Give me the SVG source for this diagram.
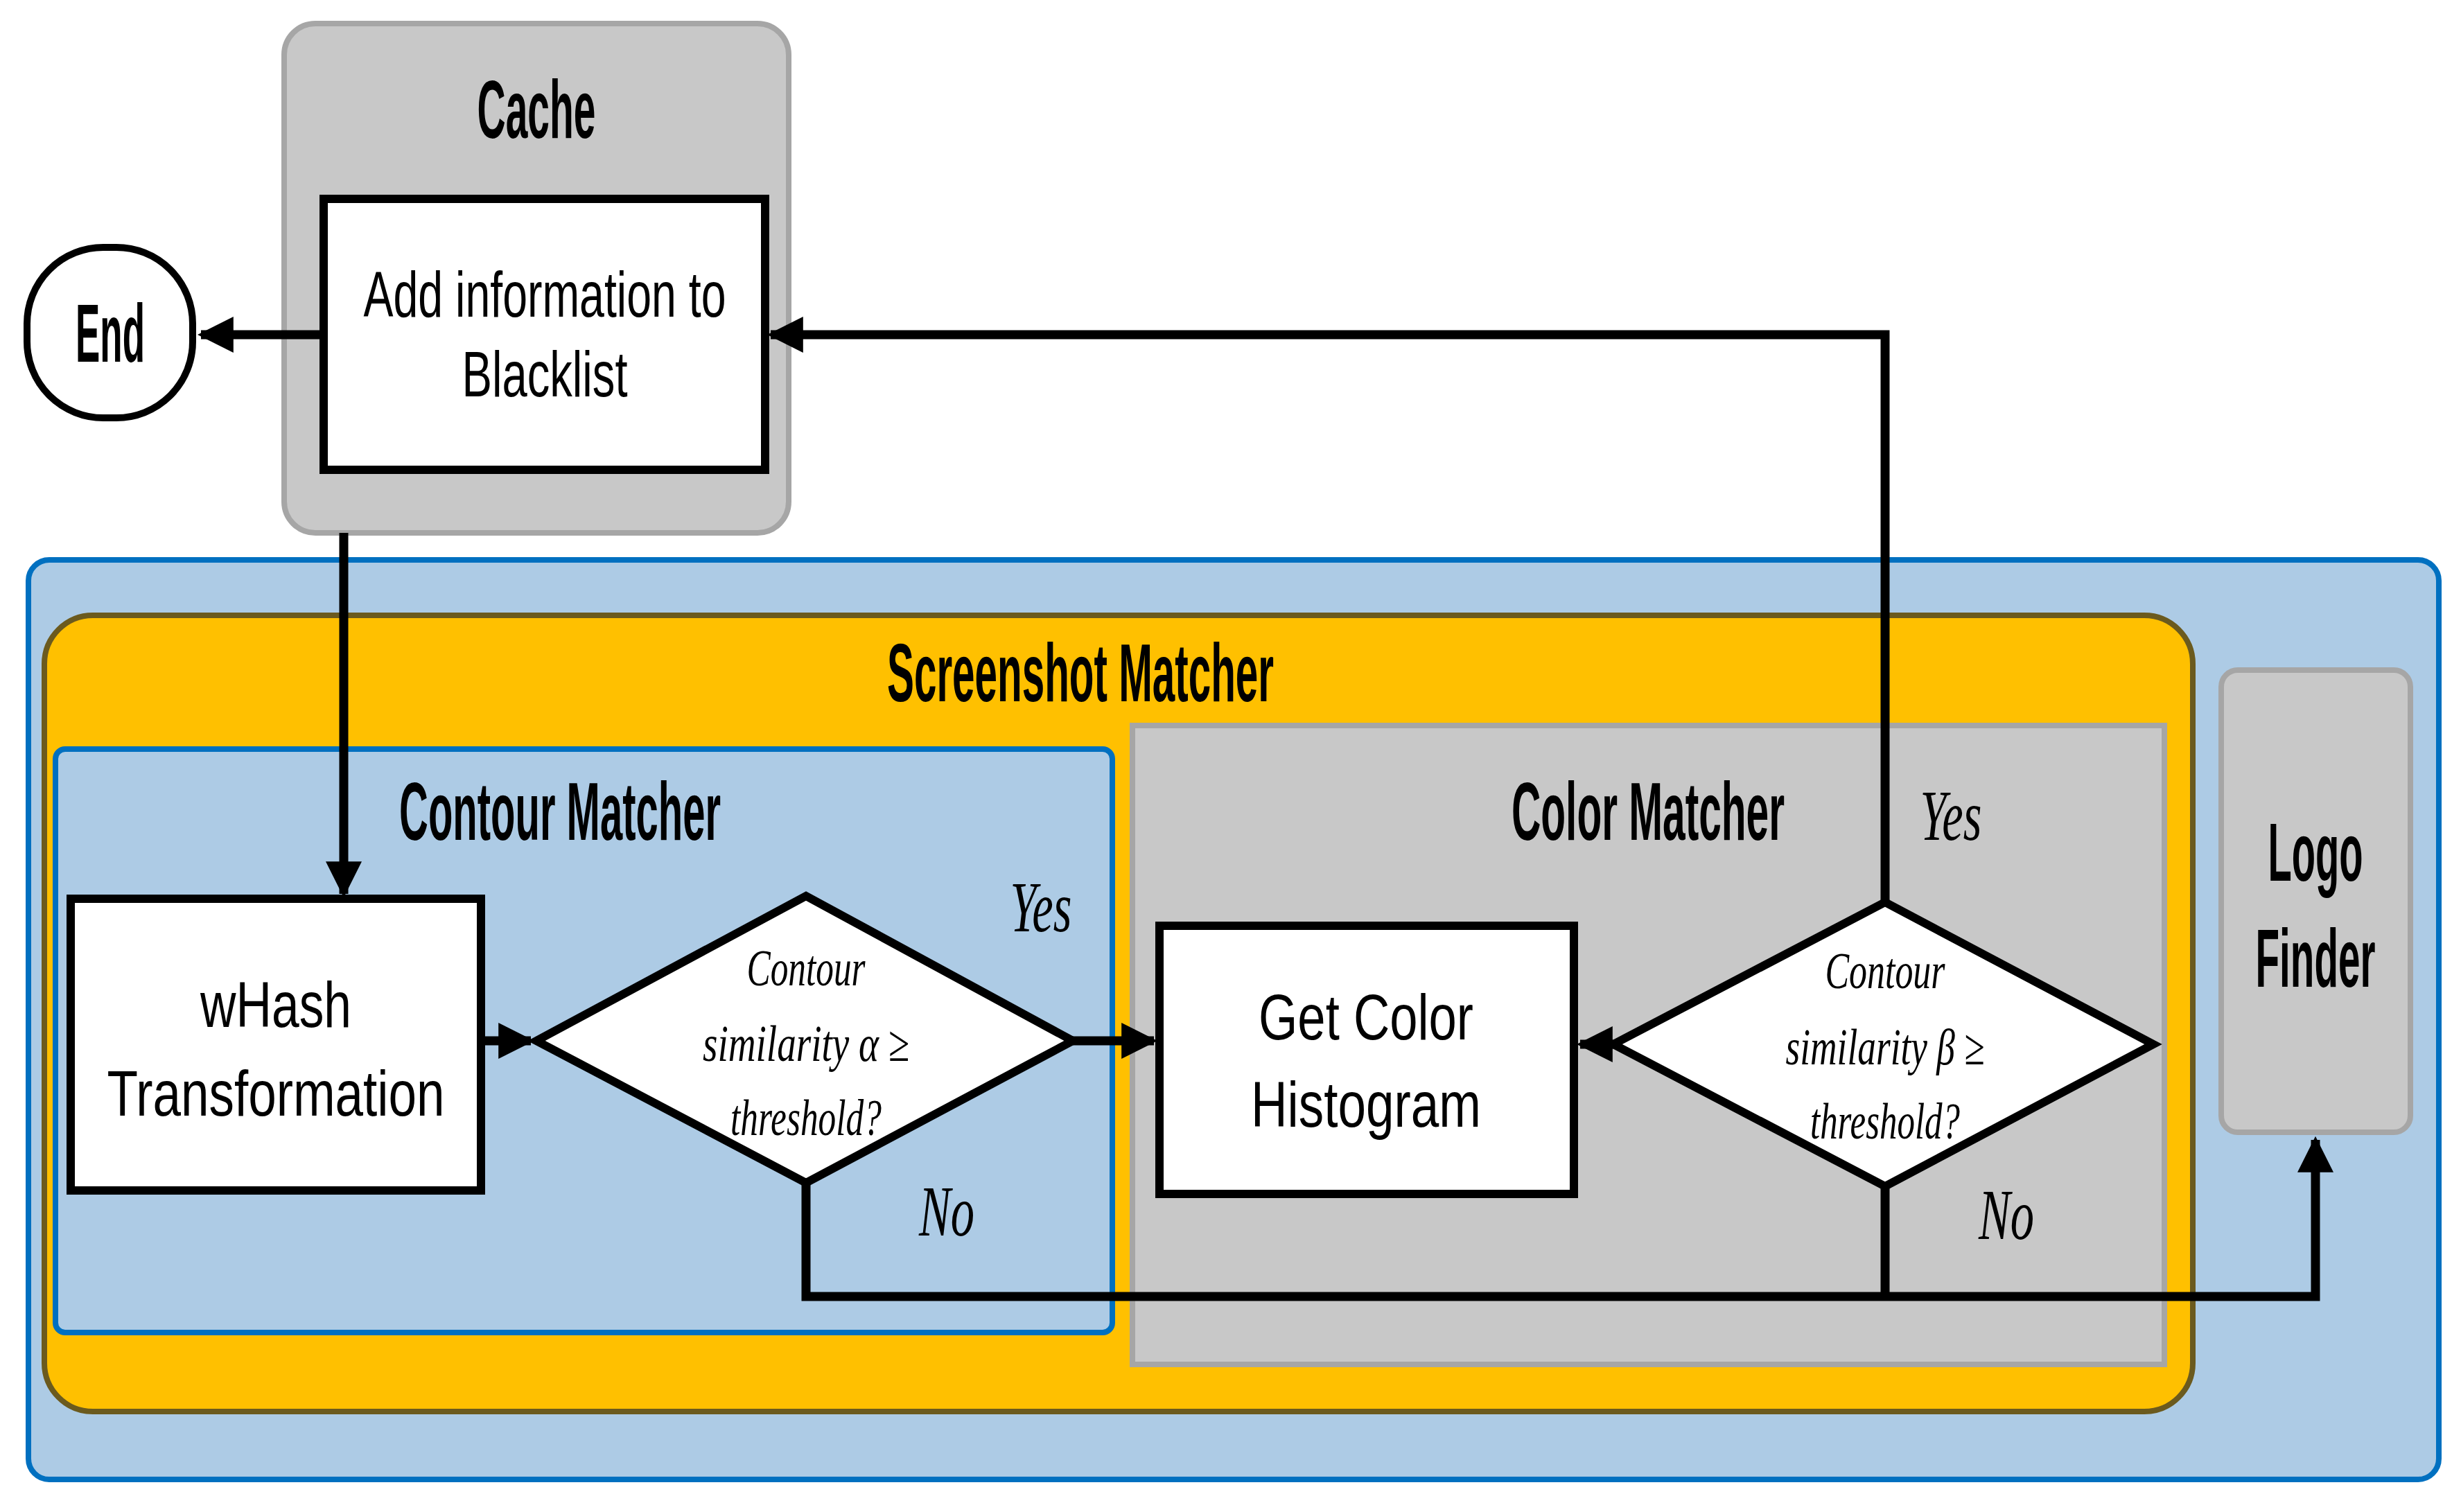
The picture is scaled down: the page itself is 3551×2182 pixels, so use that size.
<svg xmlns="http://www.w3.org/2000/svg" width="3551" height="2182" viewBox="0 0 3551 2182">
<defs>
<style>
.t{font-family:"Liberation Sans",Arial,sans-serif;font-weight:bold;font-size:118px;fill:#000;text-anchor:middle}
.r{font-family:"Liberation Sans",Arial,sans-serif;font-size:92px;fill:#000;text-anchor:middle}
.d{font-family:"Liberation Serif","Times New Roman",serif;font-style:italic;font-size:74px;fill:#000;text-anchor:middle}
.y{font-family:"Liberation Serif","Times New Roman",serif;font-style:italic;font-size:104px;fill:#000;text-anchor:middle}
.c{fill:none;stroke:#000;stroke-width:13}
</style>
<marker id="a" viewBox="0 0 10 10" refX="9" refY="5" markerWidth="4" markerHeight="4" orient="auto" markerUnits="strokeWidth"><path d="M0,0L10,5L0,10z" fill="#000"/></marker>
</defs>
<rect width="3551" height="2182" fill="#fff"/>
<g id="screenshot-outer"><rect x="41" y="808" width="3478" height="1327" rx="30" fill="#adcbe5" stroke="#0070c0" stroke-width="8"/></g>
<g id="screenshot-matcher"><rect x="64" y="888" width="3100" height="1149" rx="70" fill="#ffc000" stroke="#6b5a1e" stroke-width="8"/>
<text class="t" x="1559" y="1012" textLength="558" lengthAdjust="spacingAndGlyphs">Screenshot Matcher</text></g>
<g id="contour-matcher"><rect x="80" y="1081" width="1525" height="842" rx="14" fill="#adcbe5" stroke="#0070c0" stroke-width="8"/>
<text class="t" x="808" y="1212" textLength="464" lengthAdjust="spacingAndGlyphs">Contour Matcher</text></g>
<g id="color-matcher"><rect x="1634" y="1047" width="1489" height="922" fill="#c8c8c8" stroke="#a6a6a6" stroke-width="8"/>
<text class="t" x="2378" y="1212" textLength="394" lengthAdjust="spacingAndGlyphs">Color Matcher</text></g>
<g id="logo-finder"><rect x="3205" y="967" width="273" height="667" rx="24" fill="#c8c8c8" stroke="#a6a6a6" stroke-width="8"/>
<text class="t" x="3341" y="1271" textLength="137" lengthAdjust="spacingAndGlyphs">Logo</text>
<text class="t" x="3341" y="1424" textLength="173" lengthAdjust="spacingAndGlyphs">Finder</text></g>
<g id="cache"><rect x="410" y="34" width="728" height="735" rx="45" fill="#c8c8c8" stroke="#a6a6a6" stroke-width="8"/>
<text class="t" x="774" y="199" textLength="171" lengthAdjust="spacingAndGlyphs">Cache</text></g>
<g id="blacklist"><rect x="467" y="287" width="637" height="391" fill="#fff" stroke="#000" stroke-width="12"/>
<text class="r" x="786" y="457" textLength="523" lengthAdjust="spacingAndGlyphs">Add information to</text>
<text class="r" x="786" y="572" textLength="239" lengthAdjust="spacingAndGlyphs">Blacklist</text></g>
<g id="end"><rect x="39" y="357" width="239" height="246" rx="110" fill="#fff" stroke="#000" stroke-width="10"/>
<text class="t" x="159" y="522" textLength="100" lengthAdjust="spacingAndGlyphs">End</text></g>
<g id="whash"><rect x="102" y="1297" width="592" height="421" fill="#fff" stroke="#000" stroke-width="12"/>
<text class="r" x="398" y="1482" font-size="100" textLength="218" lengthAdjust="spacingAndGlyphs">wHash</text>
<text class="r" x="398" y="1610" font-size="100" textLength="487" lengthAdjust="spacingAndGlyphs">Transformation</text></g>
<g id="diamond1"><polygon points="774,1502 1163,1293 1548,1502 1163,1707" fill="#fff" stroke="#000" stroke-width="12"/>
<text class="d" x="1163" y="1422" textLength="171" lengthAdjust="spacingAndGlyphs">Contour</text>
<text class="d" x="1163" y="1531" textLength="298" lengthAdjust="spacingAndGlyphs">similarity α ≥</text>
<text class="d" x="1163" y="1638" textLength="218" lengthAdjust="spacingAndGlyphs">threshold?</text></g>
<g id="histogram"><rect x="1673" y="1336" width="598" height="387" fill="#fff" stroke="#000" stroke-width="12"/>
<text class="r" x="1971" y="1500" font-size="100" textLength="310" lengthAdjust="spacingAndGlyphs">Get Color</text>
<text class="r" x="1971" y="1626" font-size="100" textLength="332" lengthAdjust="spacingAndGlyphs">Histogram</text></g>
<g id="diamond2"><polygon points="2328,1507 2720,1302 3107,1507 2720,1712" fill="#fff" stroke="#000" stroke-width="12"/>
<text class="d" x="2720" y="1426" textLength="173" lengthAdjust="spacingAndGlyphs">Contour</text>
<text class="d" x="2720" y="1536" textLength="287" lengthAdjust="spacingAndGlyphs">similarity β ≥</text>
<text class="d" x="2720" y="1643" textLength="216" lengthAdjust="spacingAndGlyphs">threshold?</text></g>
<g id="connectors">
<path class="c" d="M467,483H290" marker-end="url(#a)"/>
<path class="c" d="M496,769V1290" marker-end="url(#a)"/>
<path class="c" d="M694,1502H766" marker-end="url(#a)"/>
<path class="c" d="M1548,1502H1665" marker-end="url(#a)"/>
<path class="c" d="M2328,1507H2280" marker-end="url(#a)"/>
<path class="c" d="M2720,1302V483H1112" marker-end="url(#a)"/>
<path class="c" d="M1163,1707V1871H3341V1645" marker-end="url(#a)"/>
<path class="c" d="M2720,1712V1871"/>
<text class="y" x="1502" y="1344" textLength="89" lengthAdjust="spacingAndGlyphs">Yes</text>
<text class="y" x="1366" y="1783" textLength="80" lengthAdjust="spacingAndGlyphs">No</text>
<text class="y" x="2815" y="1212" textLength="89" lengthAdjust="spacingAndGlyphs">Yes</text>
<text class="y" x="2895" y="1788" textLength="80" lengthAdjust="spacingAndGlyphs">No</text>
</g>
</svg>
